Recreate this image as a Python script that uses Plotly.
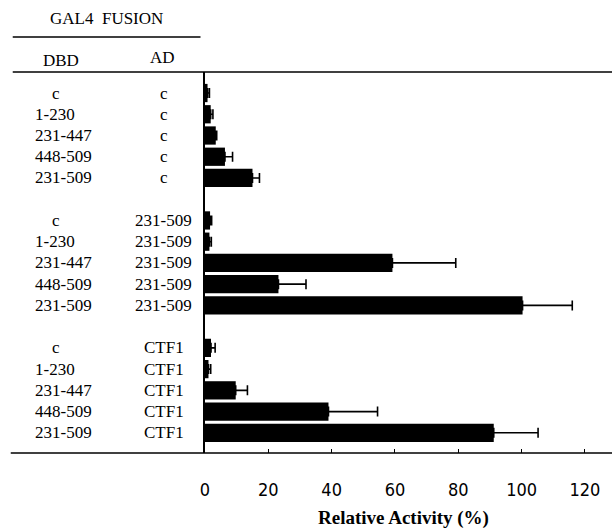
import plotly.graph_objects as go

# ---- data ----
dbd_labels = ["c", "1-230", "231-447", "448-509", "231-509"]
ad_groups = ["c", "231-509", "CTF1"]
activity = [
    [0.8, 1.8, 3.4, 6.3, 15.0],
    [1.6, 1.4, 59.2, 23.2, 100.3],
    [1.9, 1.1, 9.7, 39.0, 91.2],
]
errors = [
    [0.6, 0.7, 0.3, 2.4, 2.2],
    [0.5, 0.6, 20.0, 8.7, 15.7],
    [1.3, 0.7, 3.7, 15.5, 14.0],
]
x_ticks = [0, 20, 40, 60, 80, 100, 120]
x_title = "Relative Activity (%)"
header_title = "GAL4 FUSION"
col_headers = ["DBD", "AD"]

# ---- layout constants (pixels) ----
W, H = 612, 531
ML, MR, MT, MB = 204.5, 0, 72, 78
PW = W - ML - MR
PH = H - MT - MB


def px_x(p):
    return (p - ML) / PW


def px_y(p):
    return (H - MB - p) / PH


serif = "Liberation Serif, Times New Roman, serif"
narrow = "Liberation Sans Narrow, DejaVu Sans Condensed, Arial Narrow, sans-serif"
FS = 17

ys, xs, es, dl, al = [], [], [], [], []
slot = 0
for g, ad in enumerate(ad_groups):
    for i, d in enumerate(dbd_labels):
        ys.append(slot)
        xs.append(activity[g][i])
        es.append(errors[g][i])
        dl.append(d)
        al.append(ad)
        slot += 1
    slot += 1  # blank slot between groups
last_slot = ys[-1]

fig = go.Figure()
fig.add_trace(go.Bar(
    x=xs, y=ys, orientation="h", width=0.86,
    marker=dict(color="black", line=dict(width=0)),
    error_x=dict(type="data", array=es, symmetric=False, arrayminus=[0] * len(es),
                 color="black", thickness=1.6, width=5),
    hoverinfo="x",
))

annotations = []
for y, d, a in zip(ys, dl, al):
    if d == "c":
        annotations.append(dict(x=px_x(55), y=y, xref="paper", yref="y", text=d,
                                showarrow=False, xanchor="center", yanchor="middle",
                                font=dict(family=serif, size=FS, color="black")))
    else:
        annotations.append(dict(x=px_x(32), y=y, xref="paper", yref="y", text=d,
                                showarrow=False, xanchor="left", yanchor="middle",
                                font=dict(family=serif, size=FS, color="black")))
    annotations.append(dict(x=px_x(163), y=y, xref="paper", yref="y", text=a,
                            showarrow=False, xanchor="center", yanchor="middle",
                            font=dict(family=serif, size=FS, color="black")))

annotations.append(dict(x=px_x(106), y=px_y(18), xref="paper", yref="paper",
                        text=header_title.replace(" ", "&nbsp;&nbsp;"), showarrow=False,
                        xanchor="center", yanchor="middle",
                        font=dict(family=serif, size=FS, color="black")))
annotations.append(dict(x=px_x(60), y=px_y(60), xref="paper", yref="paper",
                        text=col_headers[0], showarrow=False, xanchor="center", yanchor="middle",
                        font=dict(family=serif, size=FS, color="black")))
annotations.append(dict(x=px_x(162), y=px_y(58), xref="paper", yref="paper",
                        text=col_headers[1], showarrow=False, xanchor="center", yanchor="middle",
                        font=dict(family=serif, size=FS, color="black")))
annotations.append(dict(x=px_x(403), y=px_y(518), xref="paper", yref="paper",
                        text="<b>" + x_title + "</b>", showarrow=False,
                        xanchor="center", yanchor="middle",
                        font=dict(family=serif, size=19, color="black")))

shapes = [
    dict(type="line", xref="paper", yref="paper", x0=px_x(12), x1=px_x(200),
         y0=px_y(37), y1=px_y(37), line=dict(color="black", width=1.5)),
    dict(type="line", xref="paper", yref="paper", x0=px_x(12), x1=1,
         y0=1, y1=1, line=dict(color="black", width=1.5)),
    dict(type="line", xref="paper", yref="paper", x0=px_x(10), x1=1,
         y0=0, y1=0, line=dict(color="black", width=1.5)),
]

fig.update_layout(
    width=W, height=H,
    margin=dict(l=ML, r=MR, t=MT, b=MB, pad=0),
    paper_bgcolor="white", plot_bgcolor="white",
    showlegend=False,
    annotations=annotations,
    shapes=shapes,
    xaxis=dict(range=[0, PW / 3.17], tickvals=x_ticks, ticks="inside", ticklen=4,
               tickcolor="black", tickwidth=1, showgrid=False, zeroline=False,
               showline=False, ticklabelstandoff=24,
               tickfont=dict(family=narrow, size=18, color="black")),
    yaxis=dict(range=[last_slot + 0.95, -0.99], showticklabels=False, ticks="",
               showgrid=False, zeroline=False, showline=True, linecolor="black",
               linewidth=2),
)

fig.write_html("out.html")
